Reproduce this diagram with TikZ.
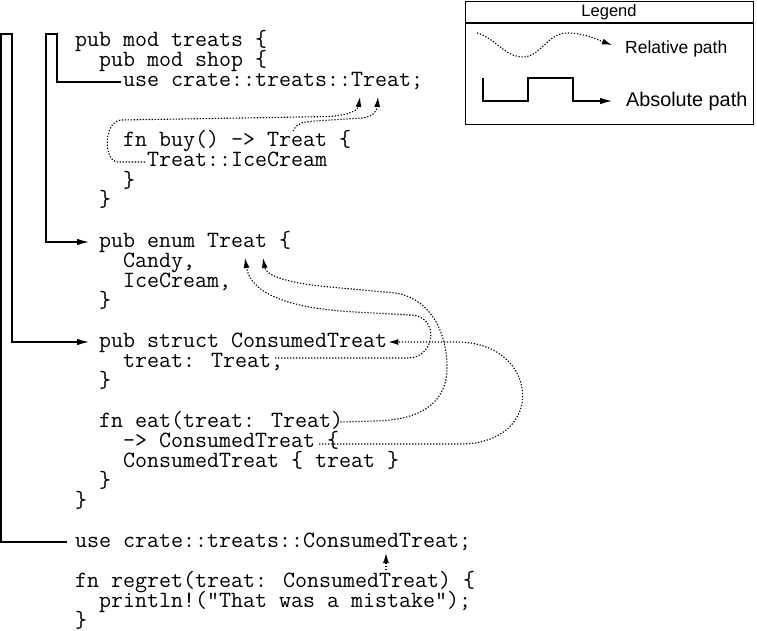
\documentclass[tikz,border=0pt]{standalone}
\usepackage{fontspec}
\newfontfamily\legendfont{Liberation Sans}
\usetikzlibrary{arrows.meta}
\usetikzlibrary{calc}
\usetikzlibrary{positioning}
\tikzset{
    code/.style = {font=\fontsize{23.3}{20}\selectfont\ttfamily,inner sep=0,anchor=base west,text height=14pt,text depth=4pt},
    abspath/.style = {line width=1.2pt,-{Latex[length=12pt,width=6.5pt]}},
    relpath/.style = {line width=1.1pt,dash pattern=on 1.3pt off 1.7pt,-{Latex[length=10pt,width=6pt]}},
    legendtxt/.style = {inner sep=0,anchor=west}
}

\begin{document}
\begin{tikzpicture}[x=1pt,y=-1pt]
        \useasboundingbox (0,0) rectangle (757,631);
        % Code
        \foreach \name/\x/\y/\txt in {
            treats/75/47/{pub mod treats \{},
            shop/99/67/{pub mod shop \{},
            usetreat/123/87/{use crate::treats::Treat;},
            buy/123/147/{fn buy() -> Treat \{},
            icecream/147/167/{Treat::IceCream},
            buyend/123/187/{\}},
            shopend/99/207/{\}},
            enum/99/247/{pub enum Treat \{},
            candy/123/267/{Candy,},
            icecr/123/287/{IceCream,},
            enumend/99/307/{\}},
            struct/99/347/{pub struct ConsumedTreat},
            field/123/367/{treat: Treat,},
            structend/99/387/{\}},
            eat/99/427/{fn eat(treat: Treat)},
            ret/123/447/{-> ConsumedTreat \{},
            body/123/467/{ConsumedTreat \{ treat \}},
            eatend/99/487/{\}},
            treatsend/75/507/{\}},
            useconsumed/75/547/{use crate::treats::ConsumedTreat;},
            regret/75/587/{fn regret(treat: ConsumedTreat) \{},
            println/99/607/{println!("That was a mistake");},
            regretend/75/627/{\}}
        }
            \node[code] (\name) at (\x,\y) {\txt};
        % Targets
        \coordinate (usetipa) at ($(usetreat.base west)+(237,10)$);
        \coordinate (usetipb) at ($(usetreat.base west)+(255,10)$);
        \coordinate (enumtipa) at ($(enum.base west)+(146,11)$);
        \coordinate (enumtipb) at ($(enum.base west)+(164,11)$);
        \coordinate (usetipc) at ($(useconsumed.base west)+(311,6)$);
        % Absolute paths
        \draw[abspath] ([xshift=-2]usetreat.west) -| (57,34) -- (46,34) |- ([xshift=-10]enum.west);
        \draw[abspath] ([xshift=-8]useconsumed.west) -| (1,34) -- (12,34) |- ([xshift=-10]struct.west);
        % Relative paths
        \draw[relpath] ([xshift=-2]icecream.west) -- (118,162)
            .. controls (103,162) and (103,120) .. (122,120) -- (330,116.5)
            .. controls (350,115) and (358,110) .. (usetipa);
        \draw[relpath] ($(buy.base west)+(170,-16)$)
            .. controls (297,123) and (302,122) .. (315,121) -- (362,118)
            .. controls (374,117) and (377,110) .. (usetipb);
        \draw[relpath] ($(field.base west)+(152,-9)$) -- (408,358)
            .. controls (436,358) and (440,315) .. (410,315) -- (355,312)
            .. controls (280,308) and (250,290) .. (enumtipa);
        \draw[relpath] ([xshift=-3]eat.east) -- (375,421)
            .. controls (425,420) and (448,400) .. (447,365)
            .. controls (446,325) and (425,297) .. (395,293) -- (330,287)
            .. controls (285,283) and (266,275) .. (enumtipb);
        \draw[relpath] ($(ret.base west)+(196,-3)$) -- (460,444)
            .. controls (548,444) and (540,342) .. (457,342) -- ([xshift=1]struct.east);
        \draw[relpath] ($(regret.base west)+(311,-17)$) -- (usetipc);
        % Legend
        \node[draw,line width=1.2pt,minimum width=288,minimum height=123,anchor=north west,inner sep=0] (legend) at (465,1) {};
        \draw[line width=1.2pt] ([yshift=-22]legend.north west) -- ([yshift=-22]legend.north east);
        \node[font=\fontsize{16.5}{18}\selectfont\legendfont] (legendtitle) at (609,12) {Legend};
        \node[legendtxt,font=\fontsize{17.5}{20}\selectfont\legendfont] (reltxt) at (625,49) {Relative path};
        \node[legendtxt,font=\fontsize{19.8}{22}\selectfont\legendfont] (abstxt) at (626,101) {Absolute path};
        \coordinate (relstart) at (477,33);
        \coordinate (absstart) at (483,78);
        \draw[relpath] (relstart) .. controls (495,38) and (505,57) .. (523,57)
            .. controls (540,57) and (548,33) .. (567,33)
            .. controls (585,33) and (598,40) .. ($(reltxt.west)+(-13,-4)$);
        \draw[abspath] (absstart) -- ++(0,23) -- ++(45,0) -- ++(0,-23) -- ++(45,0) |- ([xshift=-14]abstxt.west);
    \end{tikzpicture}
\end{document}
